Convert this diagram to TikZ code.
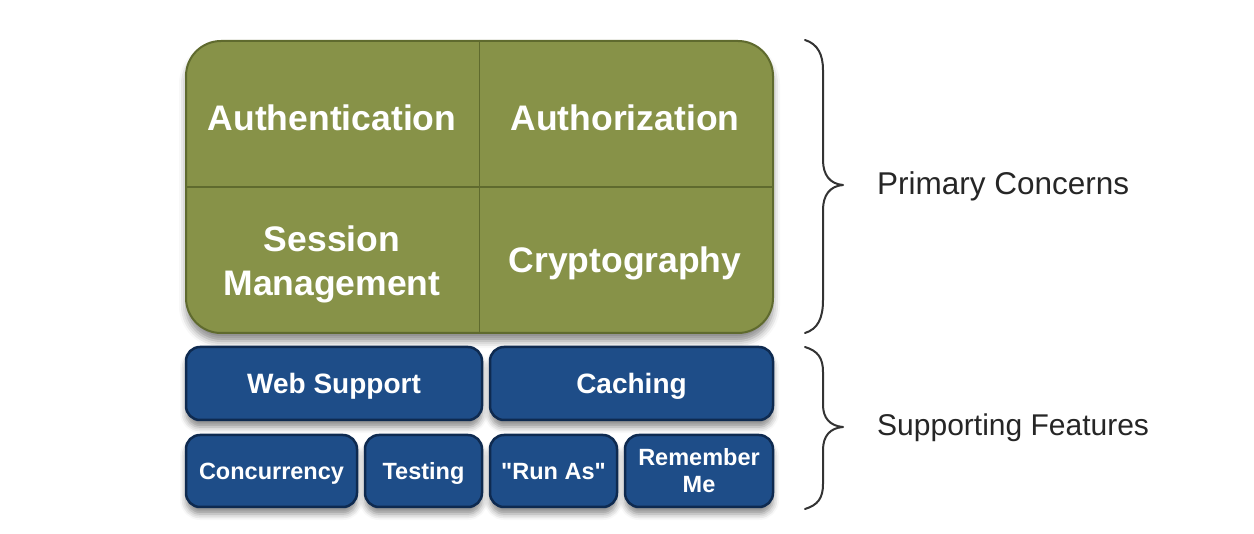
\documentclass[tikz,border=0pt]{standalone}
\usepackage{fontspec}
\setmainfont{Liberation Sans}
\usetikzlibrary{shadows.blur}
\newcommand\straightq{\XeTeXglyph\XeTeXcharglyph"22\relax}
\definecolor{olivefill}{HTML}{879248}
\definecolor{olivedraw}{HTML}{5F6A2E}
\definecolor{navyfill}{HTML}{1E4D88}
\definecolor{navydraw}{HTML}{0E2A50}
\definecolor{bracecol}{HTML}{333333}
\tikzset{
  bigtext/.style={text=white, font=\bfseries\fontsize{35.5}{44}\selectfont, align=center},
  bluebox/.style={draw=navydraw, line width=2.5pt, fill=navyfill, rounded corners=14pt,
     inner sep=0pt, text=white, align=center,
     blur shadow={shadow xshift=0pt, shadow yshift=-7pt, shadow blur radius=6pt, shadow opacity=45}},
  rowone/.style={bluebox, font=\bfseries\fontsize{28}{30}\selectfont, minimum height=73pt, text depth=0pt},
  rowtwo/.style={bluebox, font=\bfseries\fontsize{23.5}{28}\selectfont, minimum height=72pt},
  oneline/.style={text depth=0pt},
  bracepath/.style={draw=bracecol, line width=2pt, line cap=round, line join=round},
  sidelabel/.style={text=black!85, anchor=west, inner sep=0pt}
}
\begin{document}
\begin{tikzpicture}[x=1pt, y=-1pt]
\useasboundingbox (0,0) rectangle (1254,534);
% green block
\node[draw=olivedraw, line width=2pt, fill=olivefill, rounded corners=35pt,
      minimum width=587pt, minimum height=292pt, inner sep=0pt,
      blur shadow={shadow xshift=0pt, shadow yshift=-8pt, shadow blur radius=7pt, shadow opacity=45}]
      (primary) at (479.5,187) {};
\draw[olivedraw, line width=1.5pt] (primary.north) -- (primary.south);
\draw[olivedraw, line width=1.5pt] (primary.west) -- (primary.east);
\node[bigtext] (authn) at (332,118) {Authentication};
\node[bigtext] (authz) at (625,118) {Authorization};
\node[bigtext] (session) at (332,264) {Session\\Management};
\node[bigtext] (crypto) at (625,263) {Cryptography};
% blue blocks
\node[rowone, minimum width=296pt] (web) at (334,383.5) {Web Support};
\node[rowone, minimum width=283pt] (cache) at (631.5,383.5) {Caching};
\node[rowtwo, oneline, minimum width=171pt] (conc) at (271.5,471) {Concurrency};
\node[rowtwo, oneline, minimum width=117pt] (test) at (423.5,471) {Testing};
\node[rowtwo, oneline, minimum width=127pt] (runas) at (553.5,471) {\straightq Run As\straightq};
\node[rowtwo, minimum width=148pt] (remember) at (699,471) {Remember\\[-1pt]Me};
% braces
\coordinate (b1top) at (805,40);
\coordinate (b1tip) at (843,185);
\coordinate (b1bot) at (805,333);
\draw[bracepath] (b1top) .. controls (818,44) and (823,55) .. (823,70)
  -- (823,160) .. controls (823,175) and (830,184) .. (b1tip)
  .. controls (830,186) and (823,195) .. (823,210)
  -- (823,300) .. controls (823,318) and (818,329) .. (b1bot);
\coordinate (b2top) at (805,347);
\coordinate (b2tip) at (843,427);
\coordinate (b2bot) at (805,509);
\draw[bracepath] (b2top) .. controls (818,351) and (823,358) .. (823,372)
  -- (823,405) .. controls (823,418) and (830,426) .. (b2tip)
  .. controls (830,428) and (823,436) .. (823,450)
  -- (823,484) .. controls (823,498) and (818,505) .. (b2bot);
\node[sidelabel, font=\fontsize{31.5}{34}\selectfont] (pc) at (877,186) {Primary Concerns};
\node[sidelabel, font=\fontsize{30}{34}\selectfont] (sf) at (877,428) {Supporting Features};
\end{tikzpicture}
\end{document}
